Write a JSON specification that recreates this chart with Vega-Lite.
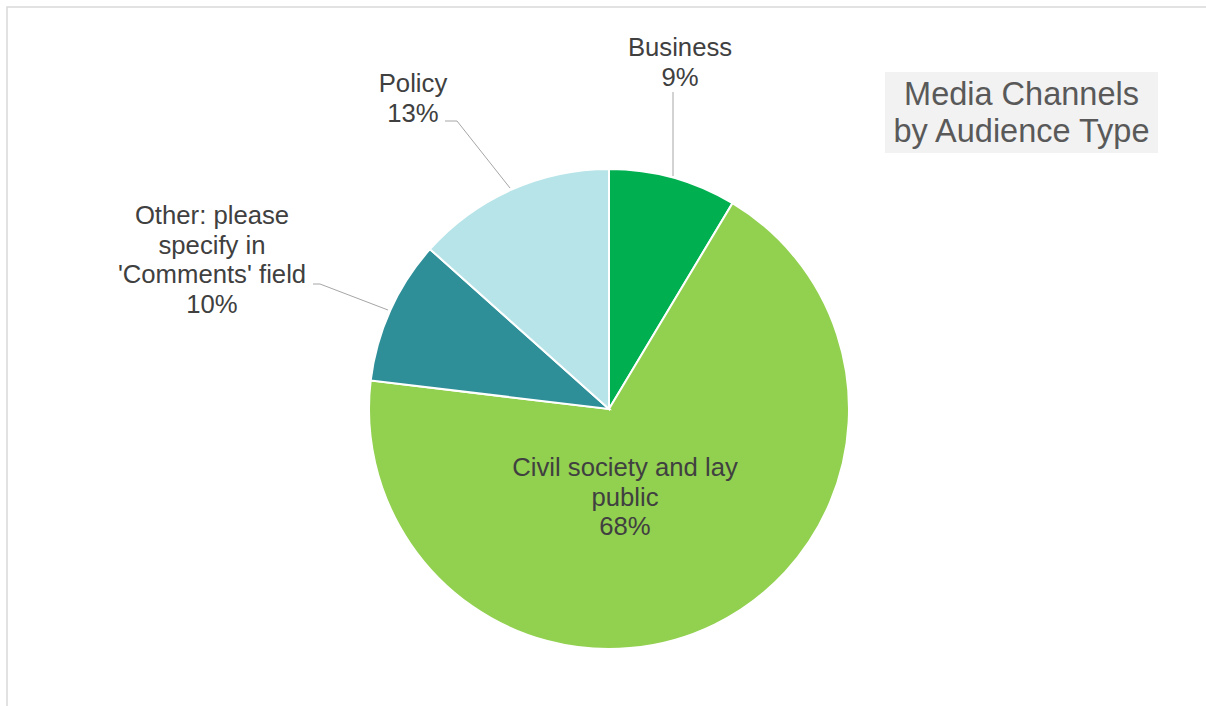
{
  "$schema": "https://vega.github.io/schema/vega-lite/v6.json",
  "width": 1206,
  "height": 706,
  "autosize": {"type": "fit", "contains": "padding"},
  "padding": {"left": 7, "top": 7, "right": -5, "bottom": -5},
  "background": "white",
  "config": {"view": {"stroke": "#d9d9d9", "strokeWidth": 1.5}, "font": "Liberation Sans"},
  "datasets": {
    "slices": [
      {"audience": "Business", "share": 8.6, "order": 1},
      {"audience": "Civil society and lay public", "share": 68.3, "order": 2},
      {"audience": "Other: please specify in 'Comments' field", "share": 9.7, "order": 3},
      {"audience": "Policy", "share": 13.4, "order": 4}
    ],
    "labels": [
      {"label": "Business\n9%", "lx": 71, "ly": 361},
      {"label": "Policy\n13%", "lx": -196, "ly": 325},
      {"label": "Other: please\nspecify in\n'Comments' field\n10%", "lx": -397, "ly": 193},
      {"label": "Civil society and lay\npublic\n68%", "lx": 16, "ly": -59}
    ],
    "leaders": [
      {"leader": "Business", "seq": 1, "px": 64, "py": 317},
      {"leader": "Business", "seq": 2, "px": 64, "py": 233},
      {"leader": "Policy", "seq": 1, "px": -164, "py": 288},
      {"leader": "Policy", "seq": 2, "px": -152, "py": 288},
      {"leader": "Policy", "seq": 3, "px": -99, "py": 221},
      {"leader": "Other", "seq": 1, "px": -296, "py": 125},
      {"leader": "Other", "seq": 2, "px": -289, "py": 125},
      {"leader": "Other", "seq": 3, "px": -221, "py": 99}
    ],
    "titlebox": [
      {"title": "Media Channels\nby Audience Type", "x1": 276, "x2": 549, "y1": 337, "y2": 256, "tx": 412.5, "ty": 314}
    ]
  },
  "layer": [
    {
      "data": {"name": "slices"},
      "mark": {"type": "arc", "outerRadius": 240, "stroke": "white", "strokeWidth": 2},
      "encoding": {
        "theta": {"field": "share", "type": "quantitative", "stack": true},
        "order": {"field": "order", "type": "quantitative"},
        "color": {
          "field": "audience",
          "type": "nominal",
          "scale": {
            "domain": ["Business", "Civil society and lay public", "Other: please specify in 'Comments' field", "Policy"],
            "range": ["#00b050", "#92d050", "#2f8f98", "#b7e4e9"]
          },
          "legend": null
        },
        "x": {"datum": 0, "type": "quantitative", "scale": {"domain": [-602, 602], "nice": false, "zero": false}, "axis": null},
        "y": {"datum": 0, "type": "quantitative", "scale": {"domain": [-302, 402], "nice": false, "zero": false}, "axis": null}
      }
    },
    {
      "data": {"name": "leaders"},
      "mark": {"type": "line", "color": "#a6a6a6", "strokeWidth": 1},
      "encoding": {
        "x": {"field": "px", "type": "quantitative", "scale": {"domain": [-602, 602], "nice": false, "zero": false}, "axis": null},
        "y": {"field": "py", "type": "quantitative", "scale": {"domain": [-302, 402], "nice": false, "zero": false}, "axis": null},
        "detail": {"field": "leader", "type": "nominal"},
        "order": {"field": "seq", "type": "quantitative"}
      }
    },
    {
      "data": {"name": "labels"},
      "mark": {"type": "text", "fontSize": 25.7, "color": "#404040", "align": "center", "baseline": "middle", "lineBreak": "\n", "lineHeight": 29.5},
      "encoding": {
        "x": {"field": "lx", "type": "quantitative", "scale": {"domain": [-602, 602], "nice": false, "zero": false}, "axis": null},
        "y": {"field": "ly", "type": "quantitative", "scale": {"domain": [-302, 402], "nice": false, "zero": false}, "axis": null},
        "text": {"field": "label", "type": "nominal"}
      }
    },
    {
      "data": {"name": "titlebox"},
      "mark": {"type": "rect", "fill": "#f2f2f2"},
      "encoding": {
        "x": {"field": "x1", "type": "quantitative", "scale": {"domain": [-602, 602], "nice": false, "zero": false}, "axis": null},
        "x2": {"field": "x2"},
        "y": {"field": "y1", "type": "quantitative", "scale": {"domain": [-302, 402], "nice": false, "zero": false}, "axis": null},
        "y2": {"field": "y2"}
      }
    },
    {
      "data": {"name": "titlebox"},
      "mark": {"type": "text", "fontSize": 32.5, "color": "#595959", "align": "center", "baseline": "middle", "lineBreak": "\n", "lineHeight": 37},
      "encoding": {
        "x": {"field": "tx", "type": "quantitative", "scale": {"domain": [-602, 602], "nice": false, "zero": false}, "axis": null},
        "y": {"field": "ty", "type": "quantitative", "scale": {"domain": [-302, 402], "nice": false, "zero": false}, "axis": null},
        "text": {"field": "title", "type": "nominal"}
      }
    }
  ]
}
